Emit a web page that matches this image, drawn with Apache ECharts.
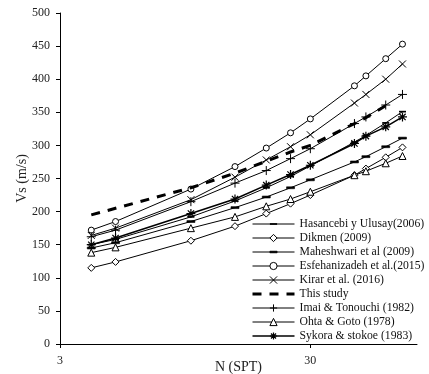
<!DOCTYPE html>
<html>
<head>
<meta charset="utf-8">
<script src="https://cdn.jsdelivr.net/npm/echarts@6/dist/echarts.min.js"></script>
<style>
html,body{margin:0;padding:0;background:#fff;}
#c{width:429px;height:374px;}
</style>
</head>
<body>
<div id="c"></div>
<script>
const N = [4, 5, 10, 15, 20, 25, 30, 45, 50, 60, 70];
const thisStudyN = [4, 5, 10, 15, 20, 25, 30, 45, 50, 60];
const hasancebi = [150, 158, 192, 216, 236, 253, 269, 305, 315, 334, 351];
const dikmen = [115, 124, 156, 178, 197, 212, 225, 255, 265, 282, 297];
const maheshwari = [145, 153, 185, 206, 222, 236, 248, 275, 283, 298, 311];
const esfehanizadeh = [172, 185, 234, 268, 296, 319, 340, 390, 405, 431, 453];
const kirar = [164, 175, 218, 252, 278, 298, 316, 364, 377, 400, 423];
const thisStudy = [195, 205, 236, 258, 276, 290, 300, 333, 342, 360];
const imai = [162, 172, 215, 243, 262, 280, 295, 333, 343, 361, 377];
const ohta = [138, 146, 175, 192, 208, 219, 230, 255, 261, 273, 284];
const sykora = [150, 160, 197, 219, 240, 256, 270, 303, 314, 328, 343];
const names = ['Hasancebi y Ulusay(2006)', 'Dikmen (2009)', 'Maheshwari et al (2009)',
  'Esfehanizadeh et al.(2015)', 'Kirar et al. (2016)', 'This study',
  'Imai & Tonouchi (1982)', 'Ohta & Goto (1978)', 'Sykora & stokoe (1983)'];
const xTicks = [3, 30];

const FONT = '"Liberation Serif", "Times New Roman", serif';
function pairs(xs, ys) { return ys.map((y, i) => [xs[i], y]); }
// short horizontal dash inside a square box
const DASH = 'path://M0,0M0,3.8L10,3.8L10,6.2L0,6.2ZM10,10';
const XMARK = 'path://M0,0L10,10M10,0L0,10';
const PLUS = 'path://M5,0L5,10M0,5L10,5';
const STAR = 'path://M5,0L5,10M0,5L10,5M1.5,1.5L8.5,8.5M8.5,1.5L1.5,8.5';

function mk(name, ys, symbol, size, opts) {
  opts = opts || {};
  return {
    name: name, type: 'line', data: pairs(opts.xs || N, ys),
    symbol: symbol, symbolSize: size, showSymbol: opts.showSymbol !== false,
    lineStyle: Object.assign({ color: '#000', width: 1 }, opts.line || {}),
    itemStyle: Object.assign({ color: '#fff', borderColor: '#000', borderWidth: 1 }, opts.item || {}),
    emphasis: { disabled: true }, z: opts.z || 2
  };
}

const series = [
  mk(names[0], hasancebi, DASH, 7, { item: { color: '#000', borderWidth: 0 } }),
  mk(names[1], dikmen, 'diamond', 7),
  mk(names[2], maheshwari, DASH, 8, { item: { color: '#000', borderWidth: 0.6 } }),
  mk(names[3], esfehanizadeh, 'circle', 6),
  mk(names[4], kirar, XMARK, 7),
  mk(names[5], thisStudy, 'circle', 0, { xs: thisStudyN, showSymbol: false,
    line: { width: 3, type: [9, 8] }, item: { color: 'rgba(0,0,0,0)', borderWidth: 0 }, z: 3 }),
  mk(names[6], imai, PLUS, 9),
  mk(names[7], ohta, 'triangle', 7),
  mk(names[8], sykora, STAR, 9, { line: { width: 1.6 }, item: { borderWidth: 1.2 } })
];

const legendData = names.map((n, i) => {
  const d = { name: n };
  if (i === 5) { d.lineStyle = { width: 3 }; d.itemStyle = { borderWidth: 0 }; }
  if (i === 8) { d.lineStyle = { width: 1.6 }; d.itemStyle = { borderWidth: 1.2 }; }
  if (i === 0) { d.itemStyle = { borderWidth: 0 }; }
  if (i === 2) { d.itemStyle = { borderWidth: 0.6 }; }
  return d;
});

const chart = echarts.init(document.getElementById('c'), null, { renderer: 'canvas' });
chart.setOption({
  animation: false,
  backgroundColor: '#fff',
  textStyle: { fontFamily: FONT },
  grid: { left: 60, right: 12, top: 13, bottom: 30, containLabel: false, outerBoundsMode: 'none' },
  legend: {
    orient: 'vertical', left: 246, top: 213,
    itemWidth: 42, itemHeight: 9, itemGap: 2,
    lineStyle: { width: 1 }, itemStyle: { borderWidth: 1 },
    textStyle: { fontFamily: FONT, fontSize: 11.7, color: '#111' },
    data: legendData
  },
  xAxis: {
    type: 'log', logBase: 10, min: 3, max: 80,
    name: 'N (SPT)', nameLocation: 'middle', nameGap: 16, nameMoveOverlap: false,
    nameTextStyle: { fontFamily: FONT, fontSize: 14, color: '#222' },
    axisLine: { lineStyle: { color: '#000', width: 1 } },
    axisTick: { show: true, length: 4, customValues: xTicks, lineStyle: { color: '#000' } },
    axisLabel: { customValues: xTicks, fontFamily: FONT, fontSize: 12, color: '#222', margin: 11,
      formatter: v => String(Math.round(v)) },
    splitLine: { show: false }, minorTick: { show: false }
  },
  yAxis: {
    type: 'value', min: 0, max: 500, interval: 50,
    name: 'Vs (m/s)', nameLocation: 'middle', nameGap: 31, nameRotate: 90, nameMoveOverlap: false,
    nameTextStyle: { fontFamily: FONT, fontSize: 14, color: '#222' },
    axisLine: { show: true, lineStyle: { color: '#000', width: 1 } },
    axisTick: { show: true, length: 4, lineStyle: { color: '#000' } },
    axisLabel: { fontFamily: FONT, fontSize: 12, color: '#222', margin: 10 },
    splitLine: { show: false }
  },
  series: series
});
</script>
</body>
</html>
